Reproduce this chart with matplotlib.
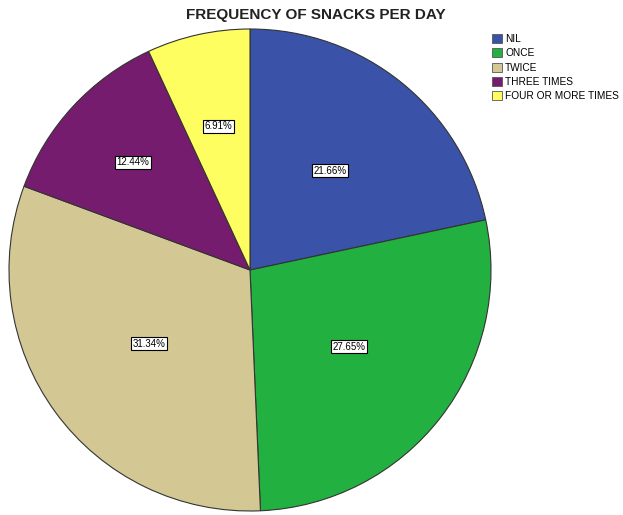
import matplotlib
matplotlib.use("Agg")
import matplotlib.pyplot as plt
import numpy as np

plt.rcParams['font.family'] = ['Liberation Sans', 'DejaVu Sans']

categories = ["NIL", "ONCE", "TWICE", "THREE TIMES", "FOUR OR MORE TIMES"]
percents = [21.66, 27.65, 31.34, 12.44, 6.91]
colors = ["#3a52a8", "#22b040", "#d3c894", "#761c6e", "#fefe60"]
label_dist = [0.53, 0.52, 0.52, 0.66, 0.61]

fig = plt.figure(figsize=(6.23, 5.15), dpi=100)
cx, cy, r = 250, 270, 241
W, H = 623, 515
ax = fig.add_axes([(cx - r) / W, (H - cy - r) / H, 2 * r / W, 2 * r / H])

wedges, texts = ax.pie(percents, colors=colors, startangle=90, counterclock=False,
                       radius=1, wedgeprops=dict(edgecolor="#333333", linewidth=0.8))
ax.set_xlim(-1, 1)
ax.set_ylim(-1, 1)
ax.set_aspect("equal")
ax.axis("off")

for w, p, d in zip(wedges, percents, label_dist):
    ang = np.deg2rad((w.theta1 + w.theta2) / 2)
    ax.text(d * np.cos(ang), d * np.sin(ang), f"{p:.2f}%", ha="center", va="center",
            fontsize=7, color="black",
            bbox=dict(boxstyle="square,pad=0.15", facecolor="white", edgecolor="black", linewidth=0.8))

fig.text(316 / W, 1 - 15 / H, "FREQUENCY OF SNACKS PER DAY", ha="center", va="center",
         fontsize=11, fontweight="bold", color="#222222")

leg = fig.legend(wedges, categories, loc="upper left", bbox_to_anchor=(492 / W, 1 - 34 / H),
                 frameon=False, fontsize=7.3, handlelength=0.95, handleheight=1.0,
                 handletextpad=0.35, labelspacing=0.42, borderaxespad=0, borderpad=0)
for h in leg.legend_handles:
    h.set_edgecolor("#555555")
    h.set_linewidth(0.6)

fig.savefig("out.png", dpi=100)
